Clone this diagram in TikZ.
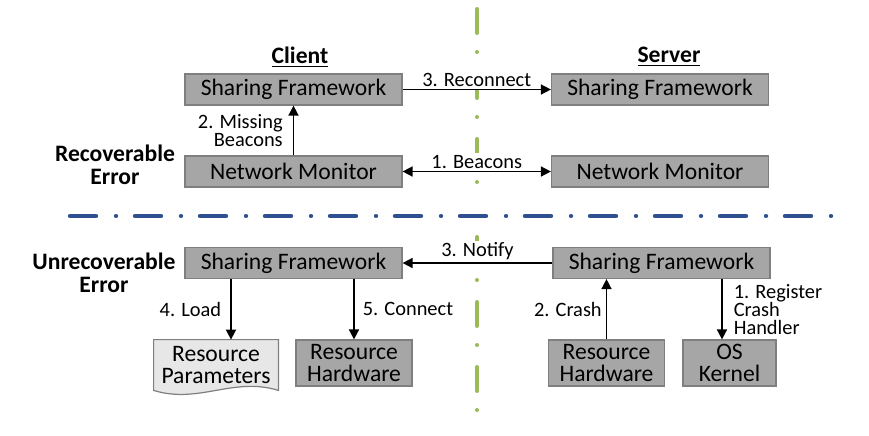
\documentclass[tikz,border=0pt]{standalone}
\usepackage{fontspec}
\setmainfont{Carlito}
\usetikzlibrary{arrows.meta,backgrounds}

\definecolor{boxgray}{HTML}{A6A6A6}
\definecolor{boxedge}{HTML}{7F7F7F}
\definecolor{docgray}{HTML}{E7E7E7}
\definecolor{sidegreen}{HTML}{9BBB59}
\definecolor{rowblue}{HTML}{2E5090}

\tikzset{gray_box/.style={rectangle, inner sep=0pt, fill=boxgray, draw=boxedge, line width=0.6pt, align=center, font=\fontsize{11.8}{11}\selectfont}}
\tikzset{wide_box/.style={gray_box, minimum width=108.5pt, minimum height=15.5pt}}
\tikzset{hw_box/.style={gray_box, minimum width=58pt, minimum height=23pt}}
\tikzset{doc_box/.style={rectangle, inner sep=0pt, align=center, minimum width=62pt, minimum height=25pt, font=\fontsize{11.8}{11}\selectfont}}
\tikzset{doc_fill/.style={fill=docgray, draw=boxedge, line width=0.6pt}}
\tikzset{flow_arrow/.style={line width=0.8pt, -{Triangle[length=5pt,width=5pt]}}}
\tikzset{both_arrow/.style={line width=0.8pt, {Triangle[length=5pt,width=5pt]}-{Triangle[length=5pt,width=5pt]}}}
\tikzset{step_label/.style={inner sep=1pt, fill=white, font=\fontsize{10.2}{9}\selectfont}}
\tikzset{col_title/.style={inner sep=0pt, font=\bfseries\fontsize{11.8}{11.6}\selectfont}}
\tikzset{row_title/.style={inner sep=0pt, align=center, font=\bfseries\fontsize{11.8}{11.6}\selectfont}}
\tikzset{green_split/.style={color=sidegreen, line width=2pt, line cap=round, dash pattern=on 12pt off 9.5pt on 0.01pt off 10.99pt}}
\tikzset{blue_split/.style={color=rowblue, line width=2.2pt, line cap=round, dash pattern=on 13pt off 10pt on 0.01pt off 9.49pt}}

\begin{document}
\begin{tikzpicture}[x=0.5pt,y=-0.5pt]
  \useasboundingbox (0,0) rectangle (869,435);

  % dividers
  \draw[green_split] (477,9) -- (477,184);
  \draw[green_split] (477,237) -- (477,411);
  \draw[blue_split] (70,216) -- (834,216);

  % titles
  \node[col_title] (client) at (300,57) {\underline{Client}};
  \node[col_title] (server) at (669,57) {\underline{Server}};
  \node[row_title] (recov) at (115,165) {Recoverable\\Error};
  \node[row_title] (unrecov) at (104,273) {Unrecoverable\\Error};

  % recoverable error
  \node[wide_box] (csf) at (293.5,89.5) {Sharing Framework};
  \node[wide_box] (cnm) at (293.5,171.5) {Network Monitor};
  \node[wide_box] (ssf) at (660,89.5) {Sharing Framework};
  \node[wide_box] (snm) at (660,171.5) {Network Monitor};

  % unrecoverable error
  \node[wide_box] (csf2) at (293.5,263) {Sharing Framework};
  \node[wide_box] (ssf2) at (661.5,263) {Sharing Framework};
  \node[doc_box] (params) at (216,365) {Resource\\Parameters};
  \node[hw_box] (chw) at (354,363) {Resource\\Hardware};
  \node[hw_box] (shw) at (606.5,363) {Resource\\Hardware};
  \node[hw_box, minimum width=46.5pt] (kern) at (729.5,363) {OS\\Kernel};

  \begin{scope}[on background layer]
    \draw[doc_fill] (params.north west) -- (params.north east) -- (params.south east)
      .. controls +(-45,-14) and +(45,14) .. (params.south west) -- cycle;
  \end{scope}

  \coordinate (load_end) at ([xshift=7.5pt]params.north);
  \coordinate (reg_end) at ([xshift=-3.75pt]kern.north);

  % arrows
  \draw[flow_arrow] (cnm) -- (csf) node[step_label, midway, left=4pt, align=right] {2. Missing\\Beacons};
  \draw[flow_arrow] (csf) -- (ssf) node[step_label, midway, above] {3. Reconnect};
  \draw[both_arrow] (cnm) -- (snm) node[step_label, midway, above] {1. Beacons};
  \draw[flow_arrow] (ssf2) -- (csf2) node[step_label, midway, above] {3. Notify};
  \draw[flow_arrow] (csf2.south -| load_end) -- (load_end) node[step_label, midway, left=3.5pt] {4. Load};
  \draw[flow_arrow] (csf2.south -| chw.north) -- (chw.north) node[step_label, midway, right=3pt] {5. Connect};
  \draw[flow_arrow] (shw.north) -- (shw.north |- ssf2.south) node[step_label, midway, left=1pt] {2. Crash};
  \draw[flow_arrow] (ssf2.south -| reg_end) -- (reg_end) node[step_label, midway, right=4.5pt, align=left] {1. Register\\Crash\\Handler};
\end{tikzpicture}
\end{document}
